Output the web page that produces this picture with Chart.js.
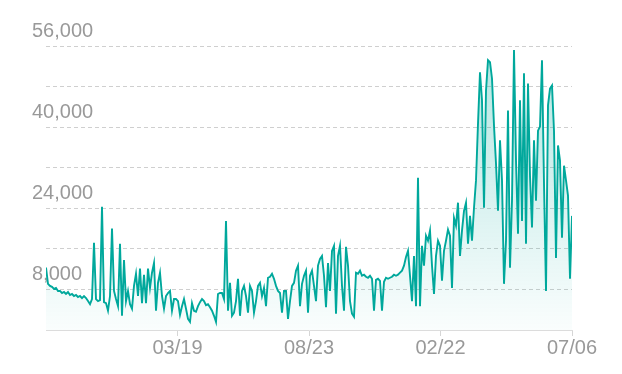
<!DOCTYPE html>
<html>
<head>
<meta charset="utf-8">
<script src="https://cdn.jsdelivr.net/npm/chart.js@4.4.1/dist/chart.umd.min.js"></script>
<style>
  html, body { margin: 0; padding: 0; background: #ffffff; }
  #wrap { width: 622px; height: 374px; position: relative; }
</style>
</head>
<body>
<div id="wrap"><canvas id="c"></canvas></div>
<script>
// Daily values (one per ~2px of plot width)
const values = [
  12300, 9100, 8700, 8500, 8100, 8300, 7700, 7700, 7300, 7500,
  7100, 7500, 6900, 7100, 6700, 6900, 6500, 6700, 6300, 6700,
  6300, 5700, 5100, 6100, 17200, 6100, 5700, 5900, 24300, 5500,
  5300, 3800, 6700, 20000, 7700, 6100, 4700, 17000, 2800, 13800,
  5700, 7700, 5100, 4200, 8700, 11100, 6700, 12100, 5300, 10900,
  5300, 12100, 8300, 11300, 13200, 3800, 9300, 11300, 6700, 4200,
  6700, 7300, 7700, 3800, 6100, 6100, 5700, 3000, 4700, 6100,
  4200, 2200, 1600, 5300, 3800, 3600, 4700, 5500, 6100, 5700,
  4900, 5100, 4500, 3800, 2800, 1600, 7100, 7300, 7300, 6100,
  21500, 3800, 9300, 2800, 3400, 5700, 10100, 2800, 7700, 8700,
  6700, 3400, 8700, 7700, 3400, 5700, 8700, 9300, 6700, 8300,
  4700, 10300, 10500, 11100, 10100, 8700, 7700, 7300, 3400, 7700,
  7700, 2200, 5700, 8700, 9300, 11700, 12700, 4700, 9100, 10700,
  11700, 3400, 10700, 11700, 8700, 5700, 12700, 14000, 14600, 10700,
  4500, 13200, 7700, 15600, 16600, 3200, 14600, 16600, 8700, 3800,
  16400, 12700, 5700, 3200, 2600, 11300, 11100, 11700, 10700, 10900,
  10500, 10300, 10700, 10100, 3800, 9900, 10100, 9700, 3800, 9500,
  10300, 10100, 10300, 10500, 10900, 10700, 10900, 11300, 11700, 12700,
  14400, 15600, 10700, 5700, 14600, 4700, 30000, 4700, 16600, 12700,
  18600, 17600, 19600, 12700, 7100, 14600, 17600, 16600, 9700, 15600,
  17600, 19800, 18600, 8300, 22100, 20600, 25100, 14600, 19600, 23500,
  25100, 17000, 22500, 17600, 24100, 29500, 40700, 50800, 45300, 24100,
  47200, 53200, 52800, 49600, 40300, 32800, 23500, 37400, 29500, 9100,
  17600, 43300, 12300, 25500, 55200, 33400, 19000, 45300, 21500, 50600,
  17000, 48600, 30400, 20200, 37400, 25500, 39300, 40100, 53200, 28900,
  7700, 44300, 47600, 48200, 39300, 14200, 36400, 33400, 18200, 32400,
  29500, 26500, 10100, 22500
];

// Tick labels along x (first tick at the left edge is unlabeled)
const xTickLabels = ["", "03/19", "08/23", "02/22", "07/06"];

// Y axis
const yMax = 56000;
const yStep = 8000;
const yLabelled = [8000, 24000, 40000, 56000];

const lastIndex = values.length - 1;
const xTickPositions = xTickLabels.map((_, i) => i * lastIndex / (xTickLabels.length - 1));
const points = values.map((v, i) => ({ x: i, y: v }));

const teal = 'rgb(0,168,156)';

const ctx = document.getElementById('c');
new Chart(ctx, {
  type: 'line',
  data: {
    datasets: [{
      data: points,
      borderColor: teal,
      borderWidth: 1.9,
      pointRadius: 0,
      tension: 0,
      fill: 'origin',
      backgroundColor: (c) => {
        const area = c.chart.chartArea;
        if (!area) return 'rgba(0,168,156,0.1)';
        const g = c.chart.ctx.createLinearGradient(0, area.top, 0, area.bottom);
        g.addColorStop(0, 'rgba(0,168,156,0.30)');
        g.addColorStop(1, 'rgba(0,168,156,0.02)');
        return g;
      }
    }]
  },
  options: {
    responsive: true,
    maintainAspectRatio: false,
    animation: false,
    layout: { padding: { left: 46, right: 50, top: 46, bottom: 14 } },
    plugins: { legend: { display: false }, tooltip: { enabled: false } },
    scales: {
      x: {
        type: 'linear',
        min: 0,
        max: lastIndex,
        afterBuildTicks: (s) => { s.ticks = xTickPositions.map(v => ({ value: v })); },
        grid: {
          drawOnChartArea: false,
          drawTicks: true,
          tickLength: 6,
          color: (c) => c.index === 0 ? 'rgba(0,0,0,0)' : '#d6d6d6'
        },
        border: { display: true, color: '#dcdcdc', width: 1 },
        ticks: {
          padding: 0,
          maxRotation: 0,
          autoSkip: false,
          color: '#999999',
          font: { family: '"Liberation Sans", Arial, sans-serif', size: 20 },
          callback: (v, i) => xTickLabels[i] ?? ''
        }
      },
      y: {
        min: 0,
        max: yMax,
        afterFit: (s) => { s.width = 0; },
        ticks: {
          stepSize: yStep,
          mirror: true,
          padding: -14,
          labelOffset: -14.5,
          color: '#999999',
          font: { family: '"Liberation Sans", Arial, sans-serif', size: 20 },
          callback: (v) => yLabelled.includes(v) ? v.toLocaleString('en-US') : ''
        },
        grid: {
          drawTicks: false,
          color: '#cfcfcf',
          lineWidth: 1
        },
        border: { display: false, dash: [4, 3] }
      }
    }
  }
});
</script>
</body>
</html>
